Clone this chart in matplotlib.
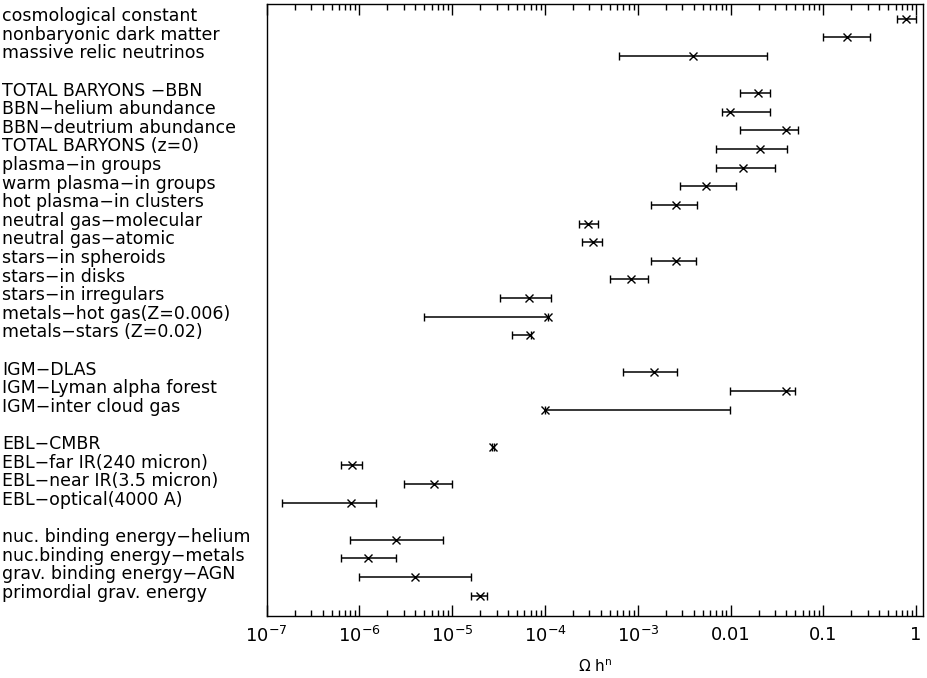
# coding: utf-8
# Census of cosmic energy densities, Omega h^n on a log axis

import numpy as np
import matplotlib
matplotlib.use("Agg")
import matplotlib.pyplot as plt
from matplotlib import transforms, ticker

# row labels, and the row slot each sits in (blank slots make the group gaps)
labels = ["cosmological constant", "nonbaryonic dark matter", "massive relic neutrinos",
          "TOTAL BARYONS \u2212BBN", "BBN\u2212helium abundance", "BBN\u2212deutrium abundance",
          "TOTAL BARYONS (z=0)", "plasma\u2212in groups", "warm plasma\u2212in groups",
          "hot plasma\u2212in clusters", "neutral gas\u2212molecular", "neutral gas\u2212atomic",
          "stars\u2212in spheroids", "stars\u2212in disks", "stars\u2212in irregulars",
          "metals\u2212hot gas(Z=0.006)", "metals\u2212stars (Z=0.02)",
          "IGM\u2212DLAS", "IGM\u2212Lyman alpha forest", "IGM\u2212inter cloud gas",
          "EBL\u2212CMBR", "EBL\u2212far IR(240 micron)", "EBL\u2212near IR(3.5 micron)",
          "EBL\u2212optical(4000 A)",
          "nuc. binding energy\u2212helium", "nuc.binding energy\u2212metals",
          "grav. binding energy\u2212AGN", "primordial grav. energy"]
slots = [0, 1, 2,
         4, 5, 6, 7, 8, 9, 10, 11, 12, 13, 14, 15, 16, 17,
         19, 20, 21,
         23, 24, 25, 26,
         28, 29, 30, 31]

# central value and range of each entry
mid = [0.78, 0.178, 0.0039,
       0.0196, 0.0098, 0.0394, 0.0207, 0.0137, 0.0055, 0.0026, 2.9e-4, 3.3e-4,
       0.0026, 8.5e-4, 6.8e-5, 1.09e-4, 6.9e-5,
       1.48e-3, 0.0394, 1.0e-4,
       2.75e-5, 8.4e-7, 6.4e-6, 8.2e-7,
       2.5e-6, 1.25e-6, 4.0e-6, 1.98e-5]
lo = [0.62, 0.098, 6.2e-4,
      0.0127, 0.0081, 0.0127, 0.0069, 0.0070, 0.00285, 0.00138, 2.3e-4, 2.5e-4,
      0.00138, 5.05e-4, 3.3e-5, 4.97e-6, 4.4e-5,
      6.9e-4, 0.0098, 1.0e-4,
      2.65e-5, 6.4e-7, 3.0e-6, 1.48e-7,
      8.0e-7, 6.3e-7, 1.0e-6, 1.58e-5]
hi = [1.0, 0.32, 0.0248,
      0.0267, 0.0267, 0.0528, 0.0407, 0.030, 0.0114, 0.0043, 3.7e-4, 4.1e-4,
      0.00425, 1.28e-3, 1.15e-4, 1.09e-4, 7.0e-5,
      2.67e-3, 0.049, 0.0098,
      2.85e-5, 1.06e-6, 1.0e-5, 1.49e-6,
      8.0e-6, 2.48e-6, 1.58e-5, 2.39e-5]

tick_vals = [1e-7, 1e-6, 1e-5, 1e-4, 1e-3, 0.01, 0.1, 1]
tick_text = ["$10^{-7}$", "$10^{-6}$", "$10^{-5}$", "$10^{-4}$", "$10^{-3}$", "0.01", "0.1", "1"]

mid = np.array(mid)
err = np.array([mid - np.array(lo), np.array(hi) - mid])

fig = plt.figure(figsize=(9.27, 6.78), dpi=100)
ax = fig.add_axes([0.2877, 0.0914, 0.7085, 0.9027])

ax.errorbar(mid, slots, xerr=err, fmt="x", color="black", ecolor="black",
            elinewidth=1.1, capsize=2.8, capthick=1.1, markersize=6, mew=1.0)

ax.set_xscale("log")
ax.set_xlim(1e-7, 1.2)
ax.set_ylim(32.1, -0.8)

ax.set_xticks(tick_vals)
ax.set_xticklabels(tick_text, fontsize=13)
ax.xaxis.set_minor_locator(ticker.LogLocator(base=10, subs=np.arange(2, 10)))
ax.xaxis.set_minor_formatter(ticker.NullFormatter())
ax.tick_params(axis="x", which="major", direction="in", length=8, width=1.0,
               top=True, pad=7)
ax.tick_params(axis="x", which="minor", direction="in", length=4, width=1.0, top=True)
ax.set_yticks([])
for s in ax.spines.values():
    s.set_linewidth(1.0)

ax.set_xlabel("$\\Omega$ h$^{\\rm n}$", fontsize=11, labelpad=9)

# the row labels sit at the left edge of the figure
trans = transforms.blended_transform_factory(fig.transFigure, ax.transData)
for i in range(len(labels)):
    ax.text(0.002, slots[i] - 0.15, labels[i], transform=trans, ha="left", va="center",
            fontsize=12.5, clip_on=False)

fig.savefig("out.png", dpi=100)
